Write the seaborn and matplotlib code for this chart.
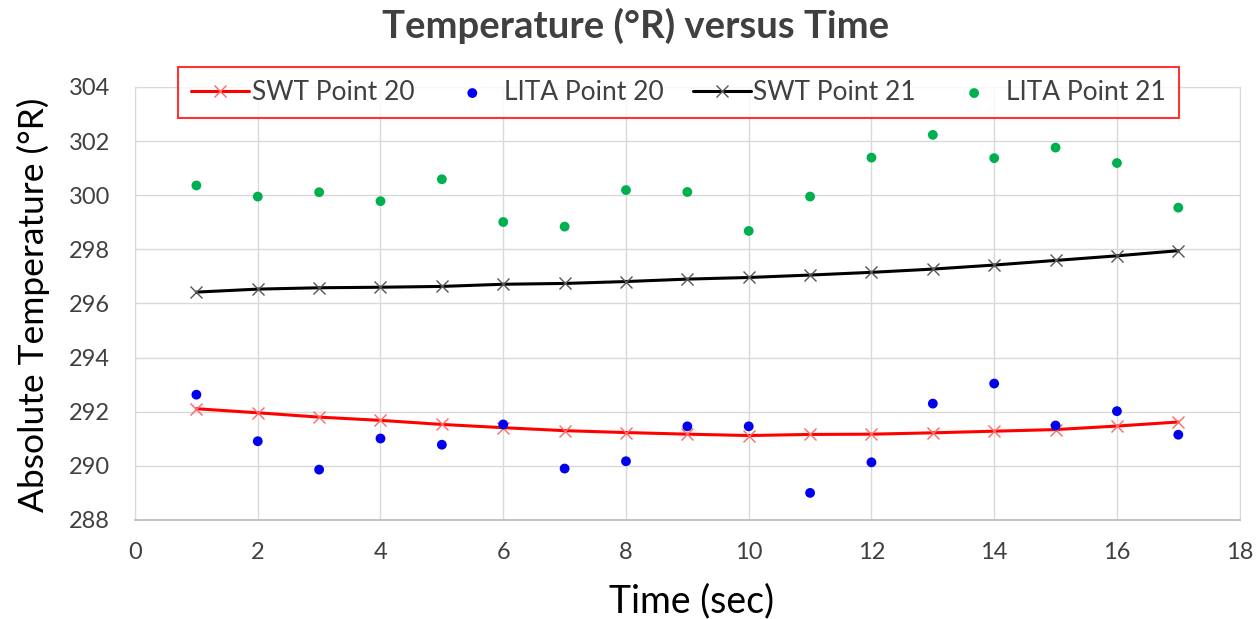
import numpy as np
import pandas as pd
import matplotlib
matplotlib.use("Agg")
import matplotlib.pyplot as plt
import seaborn as sns

# Time axis (sec)
time_sec = [1, 2, 3, 4, 5, 6, 7, 8, 9, 10, 11, 12, 13, 14, 15, 16, 17]

# SWT model curves (deg R)
swt_point_20 = [292.11, 291.96, 291.80, 291.68, 291.53, 291.41, 291.30, 291.23, 291.17,
                291.12, 291.16, 291.17, 291.22, 291.28, 291.34, 291.47, 291.62]
swt_point_21 = [296.42, 296.53, 296.58, 296.60, 296.63, 296.71, 296.74, 296.81, 296.90,
                296.96, 297.05, 297.15, 297.27, 297.42, 297.59, 297.76, 297.95]

# LITA measurements (deg R)
lita_point_20 = [292.63, 290.91, 289.86, 291.01, 290.78, 291.53, 289.90, 290.17, 291.46,
                 291.46, 289.00, 290.13, 292.30, 293.04, 291.49, 292.02, 291.15]
lita_point_21 = [300.36, 299.95, 300.11, 299.78, 300.59, 299.01, 298.84, 300.19, 300.12,
                 298.68, 299.95, 301.39, 302.23, 301.37, 301.76, 301.19, 299.54]

x_ticks = [0, 2, 4, 6, 8, 10, 12, 14, 16, 18]
y_ticks = [288, 290, 292, 294, 296, 298, 300, 302, 304]

sns.set_style("white")
plt.rcParams["font.family"] = ["Lato", "DejaVu Sans"]

df = pd.DataFrame({
    "time": time_sec,
    "swt20": swt_point_20,
    "lita20": lita_point_20,
    "swt21": swt_point_21,
    "lita21": lita_point_21,
})

fig = plt.figure(figsize=(12.56, 6.19), dpi=100)
ax = fig.add_axes([0.1075, 0.160, 0.8795, 0.6995])

sns.lineplot(data=df, x="time", y="swt20", ax=ax, color="#ff0000", lw=2.2,
             marker="x", markersize=9, markeredgecolor="#ff6666", markeredgewidth=1.0,
             label="SWT Point 20", zorder=3)
sns.scatterplot(data=df, x="time", y="lita20", ax=ax, color="#0000ee", s=50,
                edgecolor="none", label="LITA Point 20", zorder=4)
sns.lineplot(data=df, x="time", y="swt21", ax=ax, color="#000000", lw=2.2,
             marker="x", markersize=9, markeredgecolor="#555555", markeredgewidth=1.0,
             label="SWT Point 21", zorder=3)
sns.scatterplot(data=df, x="time", y="lita21", ax=ax, color="#00b050", s=50,
                edgecolor="none", label="LITA Point 21", zorder=4)

ax.set_xlim(0, 18)
ax.set_ylim(288, 304)
ax.set_xticks(x_ticks)
ax.set_yticks(y_ticks)
ax.tick_params(axis="both", labelsize=17, labelcolor="#404040", length=0)
ax.tick_params(axis="x", pad=16)
ax.tick_params(axis="y", pad=18)
ax.grid(True, color="#d9d9d9", lw=1)
ax.set_axisbelow(True)
for side in ["top", "right", "left"]:
    ax.spines[side].set_color("#d9d9d9")
ax.spines["bottom"].set_color("#bfbfbf")
ax.spines["bottom"].set_linewidth(1.3)

ax.set_xlabel("Time (sec)", fontsize=27, color="#000000")
ax.set_ylabel("Absolute Temperature (°R)", fontsize=25.5, color="#000000")
ax.xaxis.set_label_coords(0.504, -0.1455)
ax.yaxis.set_label_coords(-0.077, 0.497)

ax.get_legend().remove()
handles, labels = ax.get_legend_handles_labels()
leg = fig.legend(handles, labels, loc="center", bbox_to_anchor=(0.540, 0.8506), ncol=4,
                 fontsize=19, frameon=True, fancybox=False, handlelength=2.2,
                 handletextpad=0.1, columnspacing=1.1, borderpad=0.5)
leg.get_frame().set_edgecolor("#ff0000")
leg.get_frame().set_linewidth(1.5)
for t in leg.get_texts():
    t.set_color("#404040")

fig.text(0.506, 0.958, "Temperature (°R) versus Time", ha="center", va="center",
         fontsize=27.5, fontweight="bold", color="#404040")

fig.savefig("out.png", dpi=100)
